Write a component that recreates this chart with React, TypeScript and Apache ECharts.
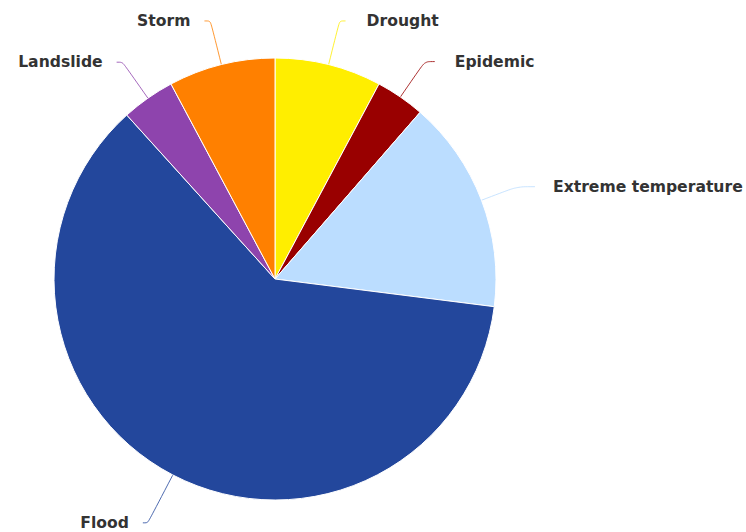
import React, { useEffect, useRef } from "react";
import * as echarts from "echarts";

const categories = ["Drought", "Epidemic", "Extreme temperature", "Flood", "Landslide", "Storm"];
const values = [7.8, 3.6, 15.6, 61.3, 3.9, 7.8];
const colors = ["#FFEE00", "#990000", "#BBDDFF", "#23479C", "#8E44AD", "#FF8000"];
// label line tuning per slice: [length, length2, distanceToLabelLine]
const lineLengths = [45, 6, 21];
const lineLengths2 = [43, 10, 20];
const lineLengths3 = [38, 18, 18];
const lineLengths4 = [54, 5, 14];
const lineLengths5 = [44, 6, 14];
const lineLengths6 = [45, 6, 14];
const lineCfg = [lineLengths, lineLengths2, lineLengths3, lineLengths4, lineLengths5, lineLengths6];

export default function App() {
  const ref = useRef<HTMLDivElement>(null);
  useEffect(() => {
    if (!ref.current) return;
    const chart = echarts.init(ref.current, null, { renderer: "svg" });
    chart.setOption({
      animation: false,
      backgroundColor: "#ffffff",
      series: [
        {
          type: "pie",
          center: [275, 279],
          radius: [0, 221],
          startAngle: 90,
          clockwise: true,
          avoidLabelOverlap: false,
          itemStyle: { borderColor: "#ffffff", borderWidth: 1 },
          label: {
            show: true,
            position: "outside",
            color: "#333333",
            fontWeight: "bold",
            fontSize: 15.6,
            fontFamily: "DejaVu Sans",
            formatter: "{b}",
          },
          labelLine: { show: true, smooth: 0.3, lineStyle: { width: 1, opacity: 0.8 } },
          data: categories.map((name, i) => ({
            name,
            value: values[i],
            itemStyle: { color: colors[i] },
            label: { distanceToLabelLine: lineCfg[i][2] },
            labelLine: { length: lineCfg[i][0], length2: lineCfg[i][1] },
          })),
        },
      ],
    });
    return () => chart.dispose();
  }, []);
  return (
    <div
      ref={ref}
      style={{ position: "fixed", left: 0, top: 0, width: 746, height: 532 }}
    />
  );
}
